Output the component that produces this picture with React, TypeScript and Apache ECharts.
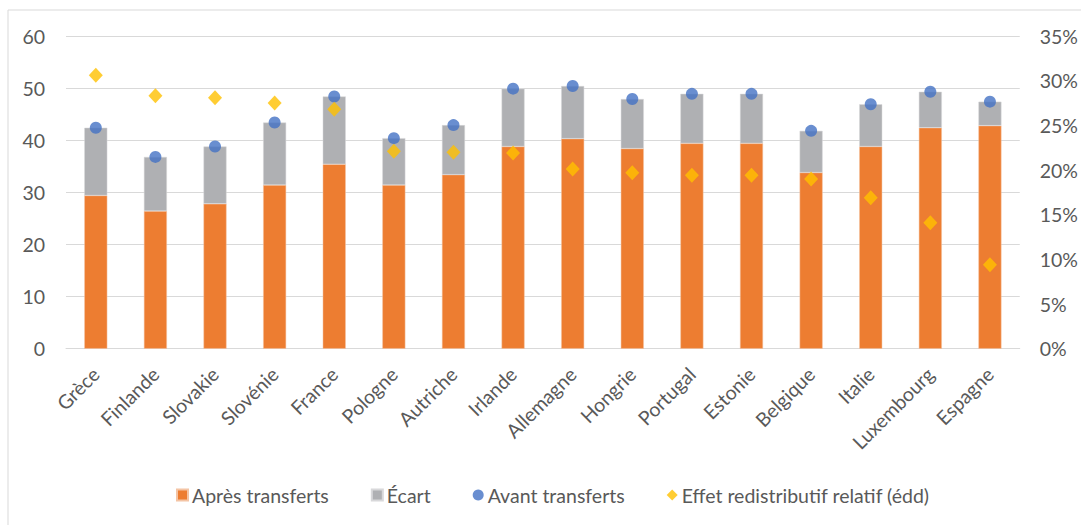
import React, { useEffect, useRef } from "react";
import * as echarts from "echarts";

const categories = ["Grèce", "Finlande", "Slovakie", "Slovénie", "France", "Pologne", "Autriche", "Irlande", "Allemagne", "Hongrie", "Portugal", "Estonie", "Belgique", "Italie", "Luxembourg", "Espagne"];
const apresTransferts = [29.4, 26.4, 27.8, 31.4, 35.4, 31.4, 33.4, 38.8, 40.3, 38.4, 39.4, 39.4, 33.8, 38.8, 42.4, 42.8];
const ecart = [13.0, 10.4, 11.0, 12.0, 13.0, 9.0, 9.5, 11.1, 10.1, 9.5, 9.5, 9.5, 8.0, 8.1, 6.9, 4.6];
const avantTransferts = [42.4, 36.8, 38.8, 43.4, 48.4, 40.4, 42.9, 49.9, 50.4, 47.9, 48.9, 48.9, 41.8, 46.9, 49.3, 47.4];
const effetRedistributif = [0.306, 0.283, 0.281, 0.275, 0.268, 0.221, 0.22, 0.219, 0.201, 0.197, 0.194, 0.194, 0.19, 0.169, 0.141, 0.094];
const leftTicks = { min: 0, max: 60, interval: 10 };
const rightTicks = { min: 0, max: 0.35, interval: 0.05 };

const FONT = "Lato, 'Open Sans', sans-serif";
const TXT = "#595959";
const FS = 19.5;

export default function App() {
  const ref = useRef<HTMLDivElement>(null);
  useEffect(() => {
    if (!ref.current) return;
    const chart = echarts.init(ref.current, undefined, { renderer: "svg" });
    chart.setOption({
      animation: false,
      textStyle: { fontFamily: FONT },
      graphic: [
        {
          type: "rect",
          shape: { x: 8, y: 10, width: 1100, height: 540 },
          style: { fill: "none", stroke: "#D9D9D9", lineWidth: 1 },
          silent: true,
        },
      ],
      grid: { left: 66, right: 60, top: 36, height: 312.7 },
      legend: {
        top: 485,
        left: 176,
        padding: 0,
        itemWidth: 11,
        itemHeight: 11,
        itemGap: 42,
        textStyle: { color: TXT, fontSize: FS, fontFamily: FONT, padding: [0, 0, 0, -1] },
        data: [
          { name: "Après transferts", icon: "rect" },
          { name: "Écart", icon: "rect" },
          { name: "Avant transferts", icon: "circle" },
          { name: "Effet redistributif relatif (édd)", icon: "diamond" },
        ],
      },
      xAxis: {
        type: "category",
        data: categories,
        axisLine: { lineStyle: { color: "#D9D9D9", width: 1 } },
        axisTick: { show: false },
        axisLabel: { rotate: 45, color: TXT, fontSize: FS, margin: 22, interval: 0, fontFamily: FONT },
      },
      yAxis: [
        {
          type: "value",
          min: leftTicks.min,
          max: leftTicks.max,
          interval: leftTicks.interval,
          axisLine: { show: false },
          axisTick: { show: false },
          axisLabel: { color: TXT, fontSize: FS, margin: 21, fontFamily: FONT },
          splitLine: { lineStyle: { color: "#D9D9D9", width: 1 } },
        },
        {
          type: "value",
          min: rightTicks.min,
          max: rightTicks.max,
          interval: rightTicks.interval,
          axisLine: { show: false },
          axisTick: { show: false },
          splitLine: { show: false },
          axisLabel: {
            color: TXT,
            fontSize: FS,
            margin: 20,
            fontFamily: FONT,
            formatter: (v: number) => Math.round(v * 100) + "%",
          },
        },
      ],
      series: [
        {
          name: "Après transferts",
          type: "bar",
          stack: "total",
          data: apresTransferts,
          barWidth: 23,
          itemStyle: { color: "#ED7D31", borderColor: "#F4C4A4", borderWidth: 0.5 },
        },
        {
          name: "Écart",
          type: "bar",
          stack: "total",
          data: ecart,
          barWidth: 23,
          itemStyle: { color: "#AFB0B3", borderColor: "#D8D8DA", borderWidth: 0.5 },
        },
        {
          name: "Avant transferts",
          type: "scatter",
          data: avantTransferts,
          symbol: "circle",
          symbolSize: 12,
          itemStyle: { color: "#4472C4" },
          z: 3,
        },
        {
          name: "Effet redistributif relatif (édd)",
          type: "scatter",
          yAxisIndex: 1,
          data: effetRedistributif,
          symbol: "diamond",
          symbolSize: [14, 15],
          itemStyle: { color: "#FFC000" },
          z: 4,
        },
      ],
    });
    return () => chart.dispose();
  }, []);
  return (
    <div
      ref={ref}
      style={{ position: "fixed", left: 0, top: 0, width: 1081, height: 525, background: "#fff" }}
    />
  );
}
